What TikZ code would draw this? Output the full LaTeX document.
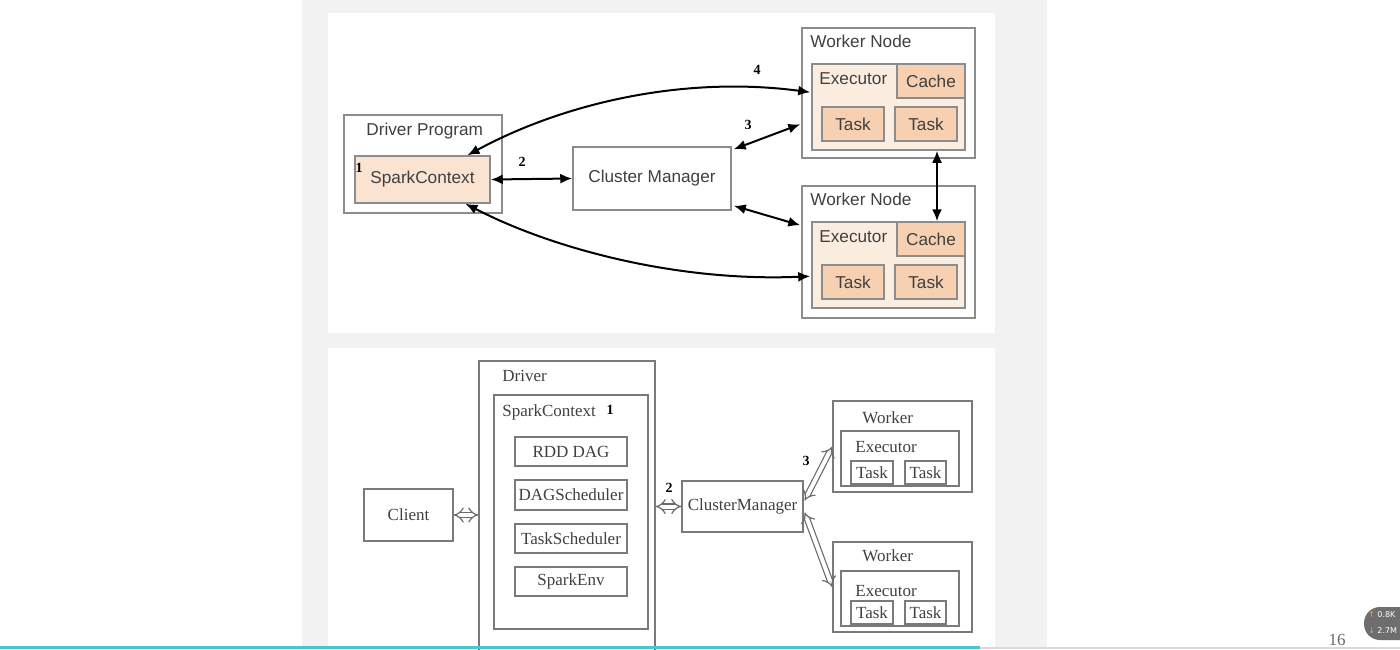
\documentclass[tikz,border=0pt]{standalone}
\usepackage{fontspec}
\setmainfont{Liberation Serif}
\setsansfont{Liberation Sans}
\newfontfamily\dejavu{DejaVu Sans}
\usetikzlibrary{arrows.meta,calc}
\definecolor{slidebg}{HTML}{F2F2F2}
\definecolor{gbord}{HTML}{8C8C8C}
\definecolor{bbord}{HTML}{7A7A7A}
\definecolor{tgray}{HTML}{404040}
\definecolor{scfill}{HTML}{FAE3D1}
\definecolor{exfill}{HTML}{FCEDE1}
\definecolor{tkfill}{HTML}{F7D0B1}
\definecolor{hgray}{HTML}{6A6A6A}
\definecolor{cyanline}{HTML}{4CC4D2}
\definecolor{wgray}{HTML}{6E6E6E}
\definecolor{worange}{HTML}{E8A33C}
\begin{document}
\begin{tikzpicture}[x=0.5pt,y=-0.5pt,
  sz/.style 2 args={minimum width=#1*0.5pt, minimum height=#2*0.5pt},
  tbox/.style={draw=gbord, line width=0.75pt, fill=white, inner sep=0pt,
    font=\sffamily\fontsize{8.6}{10}\selectfont, text=tgray},
  bbox/.style={draw=bbord, line width=0.7pt, fill=white, inner sep=0pt,
    font=\rmfamily\fontsize{8.5}{10}\selectfont, text=tgray},
  ttl/.style={anchor=base west, inner sep=0pt, font=\sffamily\fontsize{8.6}{10}\selectfont, text=tgray},
  bttl/.style={anchor=base west, inner sep=0pt, font=\rmfamily\fontsize{8.5}{10}\selectfont, text=tgray},
  num/.style={inner sep=0pt, font=\rmfamily\bfseries\fontsize{7}{8}\selectfont, text=black},
  arr/.style={line width=1pt, {Latex[length=6pt,width=5pt]}-{Latex[length=6pt,width=5pt]}},
  harr/.style={draw=hgray, double=white, double distance=2pt, line width=0.6pt, {Implies[scale=1.1]}-{Implies[scale=1.1]}}
]
\useasboundingbox (0,0) rectangle (1400,649);
% backgrounds
\fill[white] (0,0) rectangle (1400,649);
\fill[slidebg] (302,0) rectangle (1047,649);
\fill[white] (328,13) rectangle (995,333);
\fill[white] (328,348) rectangle (995,649);

% ===== top diagram =====
\node[tbox, sz={158}{98}] (dp) at (423,164) {};
\node[ttl] (dpT) at (366,135) {Driver Program};
\node[tbox, sz={135}{47}, fill=scfill] (sc) at (422.5,179.5) {SparkContext};
\node[num] (sc1) at (359,168) {1};
\node[tbox, sz={158}{63}] (cm) at (652,178.5) {Cluster Manager};

\node[tbox, sz={173}{130}] (w1) at (888.5,93) {};
\node[ttl] (w1T) at (810,47) {Worker Node};
\node[tbox, sz={153}{86}, fill=exfill] (e1) at (888.5,107) {};
\node[ttl] (e1T) at (819,84) {Executor};
\node[tbox, sz={68}{34}, fill=tkfill] (c1) at (931,81) {Cache};
\node[tbox, sz={62}{34}, fill=tkfill] (t1a) at (853,124) {Task};
\node[tbox, sz={62}{34}, fill=tkfill] (t1b) at (926,124) {Task};

\node[tbox, sz={173}{132}] (w2) at (888.5,252) {};
\node[ttl] (w2T) at (810,205) {Worker Node};
\node[tbox, sz={153}{86}, fill=exfill] (e2) at (888.5,265) {};
\node[ttl] (e2T) at (819,242) {Executor};
\node[tbox, sz={68}{34}, fill=tkfill] (c2) at (931,239) {Cache};
\node[tbox, sz={62}{34}, fill=tkfill] (t2a) at (853,282) {Task};
\node[tbox, sz={62}{34}, fill=tkfill] (t2b) at (926,282) {Task};

\coordinate (cmA) at ($(cm.north east)+(2,3)$);
\coordinate (w1A) at ($(w1.north west)+(-1,97)$);
\coordinate (cmB) at ($(cm.south east)+(2,-5)$);
\coordinate (w2B) at ($(w2.north west)+(-1,40)$);
\coordinate (scT) at ($(sc.north)+(45,0)$);
\coordinate (e1L) at ($(e1.north west)+(-1,29)$);
\coordinate (scB) at ($(sc.south)+(43,0)$);
\coordinate (e2L) at ($(e2.north west)+(-1,55)$);
\coordinate (e1V) at ($(e1.south)+(48.5,0)$);
\coordinate (c2V) at ($(e2.north)+(48.5,0)$);

\draw[arr] (sc.east) -- (cm.west);
\node[num] (n2) at (522,162) {2};
\draw[arr] (cmA) -- (w1A);
\node[num] (n3) at (748,125) {3};
\draw[arr] (cmB) -- (w2B);
\draw[arr] (scT) .. controls (560,105) and (680,75) .. (e1L);
\node[num] (n4) at (757,70) {4};
\draw[arr] (scB) .. controls (555,250) and (680,282) .. (e2L);
\draw[arr] (e1V) -- (c2V);

% ===== bottom diagram =====
\node[bbox, sz={176}{294}] (drv) at (567,508) {};
\node[bttl] (drvT) at (502,381) {Driver};
\node[bbox, sz={154}{234}] (sc2) at (571,512) {};
\node[bttl] (sc2T) at (502,416) {SparkContext};
\node[num] (sc21) at (610,410) {1};
\node[bbox, sz={112}{29}] (rdd) at (571,451.5) {RDD DAG};
\node[bbox, sz={112}{30}] (dag) at (571,495) {DAGScheduler};
\node[bbox, sz={112}{29}] (ts) at (571,538.5) {TaskScheduler};
\node[bbox, sz={112}{29}] (env) at (571,581.5) {SparkEnv};
\node[bbox, sz={89}{52}] (cl) at (408.5,515) {Client};
\node[bbox, sz={121}{51}] (cm2) at (742.5,506.5) {ClusterManager};

\node[bbox, sz={139}{91}] (wk1) at (902.5,446.5) {};
\node[bttl] (wk1T) at (862,423) {Worker};
\node[bbox, sz={118}{55}] (ex1) at (900,458.5) {};
\node[bttl] (ex1T) at (855,452) {Executor};
\node[bbox, sz={42}{23}] (tk1a) at (872,472.5) {Task};
\node[bbox, sz={41}{23}] (tk1b) at (925.5,472.5) {Task};

\node[bbox, sz={139}{90}] (wk2) at (902.5,587) {};
\node[bttl] (wk2T) at (862,561) {Worker};
\node[bbox, sz={118}{55}] (ex2) at (900,598.5) {};
\node[bttl] (ex2T) at (855,596) {Executor};
\node[bbox, sz={42}{23}] (tk2a) at (872,612.5) {Task};
\node[bbox, sz={41}{23}] (tk2b) at (925.5,612.5) {Task};

\coordinate (drvL) at (drv.west |- cl.east);
\coordinate (drvR) at (drv.east |- cm2.west);
\coordinate (cm2a) at ($(cm2.east)+(1,-6)$);
\coordinate (cm2b) at ($(cm2.east)+(1,6)$);

\draw[harr] (cl.east) -- (drvL);
\draw[harr] (drvR) -- (cm2.west);
\node[num] (m2) at (669,488) {2};
\draw[harr] (cm2a) -- (wk1.west);
\draw[harr] (cm2b) -- (wk2.west);
\node[num] (m3) at (806,461) {3};

% ===== screen decorations =====
\node[inner sep=0pt, font=\rmfamily\fontsize{8.5}{10}\selectfont, text=tgray!80] (pg) at (1337,640) {16};
\fill[cyanline] (0,646) rectangle (980,649);
\fill[gray!30] (980,647) rectangle (1400,649);
\fill[wgray, rounded corners=8pt] (1364,607) rectangle (1430,640);
\node[anchor=west, inner sep=0pt, font=\dejavu\fontsize{4}{5}\selectfont, text=worange] (wu) at (1368,615) {↑};
\node[anchor=west, inner sep=0pt, font=\dejavu\fontsize{4}{5}\selectfont, text=white] (wut) at (1377,615) {0.8K};
\node[anchor=west, inner sep=0pt, font=\dejavu\fontsize{4}{5}\selectfont, text=worange] (wd) at (1368,631) {↓};
\node[anchor=west, inner sep=0pt, font=\dejavu\fontsize{4}{5}\selectfont, text=white] (wdt) at (1377,631) {2.7M};
\end{tikzpicture}
\end{document}
